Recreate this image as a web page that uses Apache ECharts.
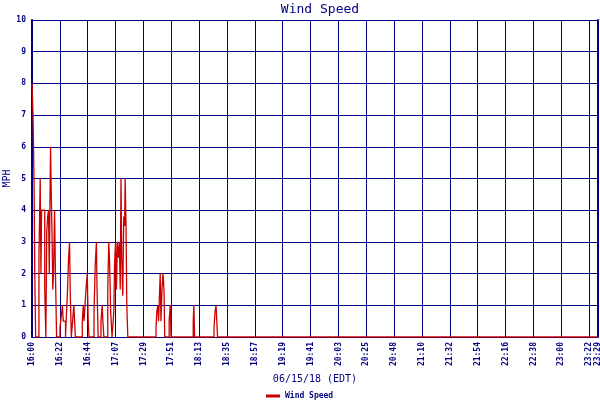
<!DOCTYPE html>
<html>
<head>
<meta charset="utf-8">
<script src="https://cdn.jsdelivr.net/npm/echarts@6/dist/echarts.min.js"></script>
<style>html,body{margin:0;padding:0;background:#fff;}#c{width:600px;height:400px;}</style>
</head>
<body>
<div id="c"></div>
<script>
// minutes after 16:00 (06/15/18 EDT) where each reading starts
const minutes = [0, 0.8, 1.6, 2.2, 2.9, 5.5, 6.5, 7.1, 7.6, 10.1, 11.0, 11.7, 12.4, 13.1, 13.7, 14.7, 15.3, 16.0, 16.5, 17.1, 17.9, 18.6, 19.5,
  22.2, 23.6, 24.1, 24.8, 26.6, 27.1, 28.2, 29.0, 29.8, 30.3, 31.2, 32.2, 33.2, 33.8, 34.4,
  39.9, 40.7, 41.3, 42.8, 43.8, 44.6, 45.2, 49.2, 50.2, 51.1, 51.6, 52.5, 54.7, 55.7, 56.2, 57.0,
  60.1, 60.9, 61.6, 62.4, 63.5, 64.9, 65.5, 66.3, 67.0, 67.7, 68.5, 69.3, 70.0, 70.6, 71.2, 72.0, 72.8, 73.5, 73.9, 74.6, 75.2, 76.0,
  98.4, 99.0, 99.8, 100.4, 101.7, 102.3, 103.1, 103.9, 104.7, 105.3, 108.8, 109.6, 110.3,
  127.9, 128.4, 129.0, 144.4, 145.2, 146.0, 146.6, 147.2, 449];
// wind speed (MPH)
const speeds = [8, 7, 5, 2, 0, 2.5, 5, 2, 4, 1.5, 0, 3.3, 3.8, 4, 2, 6, 4.5, 3, 1.5, 2, 4, 2, 0,
  0.3, 0.8, 1, 0.5, 0, 0.5, 1.5, 2.5, 3, 1.5, 0, 0.5, 1, 0.5, 0,
  0.5, 1, 0.5, 1.5, 2, 0.5, 0, 0.8, 2.3, 3, 1.5, 0, 0.5, 1, 0.5, 0,
  1.5, 3, 2.3, 0.8, 0, 0.8, 2.3, 3, 1.5, 3, 2.5, 3, 1.5, 5, 2.5, 1.3, 3.8, 3.5, 5, 3.5, 1, 0,
  0.3, 0.8, 1, 0.5, 2, 0.5, 1.5, 2, 1.5, 0, 0.5, 1, 0,
  0.5, 1, 0, 0.3, 0.8, 1, 0.5, 0, 0];
const tickLabels = ['16:00', '16:22', '16:44', '17:07', '17:29', '17:51', '18:13', '18:35', '18:57', '19:19', '19:41',
  '20:03', '20:25', '20:48', '21:10', '21:32', '21:54', '22:16', '22:38', '23:00', '23:22'];
const endLabel = '23:29';
const seriesName = 'Wind Speed';
const xName = '06/15/18 (EDT)';
const yName = 'MPH';

const NAVY = '#000080';
const MONO = "'DejaVu Sans Mono', monospace";
const X_MAX = 449, X_STEP = 22.1;

const chart = echarts.init(document.getElementById('c'), null, {renderer: 'canvas'});
chart.setOption({
  animation: false,
  backgroundColor: '#ffffff',
  title: {
    text: 'Wind Speed', left: 315, top: -2, textAlign: 'center',
    textStyle: {color: NAVY, fontFamily: MONO, fontSize: 13, fontWeight: 'normal'}
  },
  legend: {
    data: [seriesName], left: 261, top: 387, icon: 'rect', itemWidth: 14, itemHeight: 3,
    textStyle: {color: NAVY, fontFamily: MONO, fontSize: 8, fontWeight: 'bold'}
  },
  grid: {left: 32, right: 2, top: 20, bottom: 63, containLabel: false, outerBoundsMode: 'none'},
  xAxis: {
    type: 'value', min: 0, max: X_MAX, interval: X_STEP,
    name: xName, nameLocation: 'middle', nameGap: 37, nameMoveOverlap: false,
    nameTextStyle: {color: NAVY, fontFamily: MONO, fontSize: 10},
    axisLine: {show: true, lineStyle: {color: NAVY, width: 1}},
    axisTick: {show: false},
    axisLabel: {
      rotate: 90, margin: 5, color: NAVY, fontFamily: MONO, fontSize: 8, fontWeight: 'bold',
      showMinLabel: true, showMaxLabel: true,
      formatter: function (v) {
        if (v >= X_MAX - 0.01) return endLabel;
        return tickLabels[Math.round(v / X_STEP)] || '';
      }
    },
    splitLine: {show: true, lineStyle: {color: NAVY, width: 1}}
  },
  yAxis: [{
    type: 'value', min: 0, max: 10, interval: 1,
    name: yName, nameLocation: 'middle', nameGap: 20, nameMoveOverlap: false,
    nameTextStyle: {color: NAVY, fontFamily: MONO, fontSize: 10},
    axisLine: {show: true, lineStyle: {color: NAVY, width: 2}},
    axisTick: {show: false},
    axisLabel: {color: NAVY, fontFamily: MONO, fontSize: 8, fontWeight: 'bold', margin: 6},
    splitLine: {show: true, lineStyle: {color: NAVY, width: 1}}
  }, {
    type: 'value', min: 0, max: 10, interval: 1, position: 'right',
    axisLine: {show: true, lineStyle: {color: NAVY, width: 2}},
    axisTick: {show: false}, axisLabel: {show: false}, splitLine: {show: false}
  }],
  series: [{
    name: seriesName, type: 'line', step: 'end', showSymbol: false, symbol: 'none',
    yAxisIndex: 0,
    lineStyle: {color: '#cc0000', width: 1.3},
    itemStyle: {color: '#cc0000'},
    data: minutes.map((m, i) => [m, speeds[i]])
  }]
});
</script>
</body>
</html>
